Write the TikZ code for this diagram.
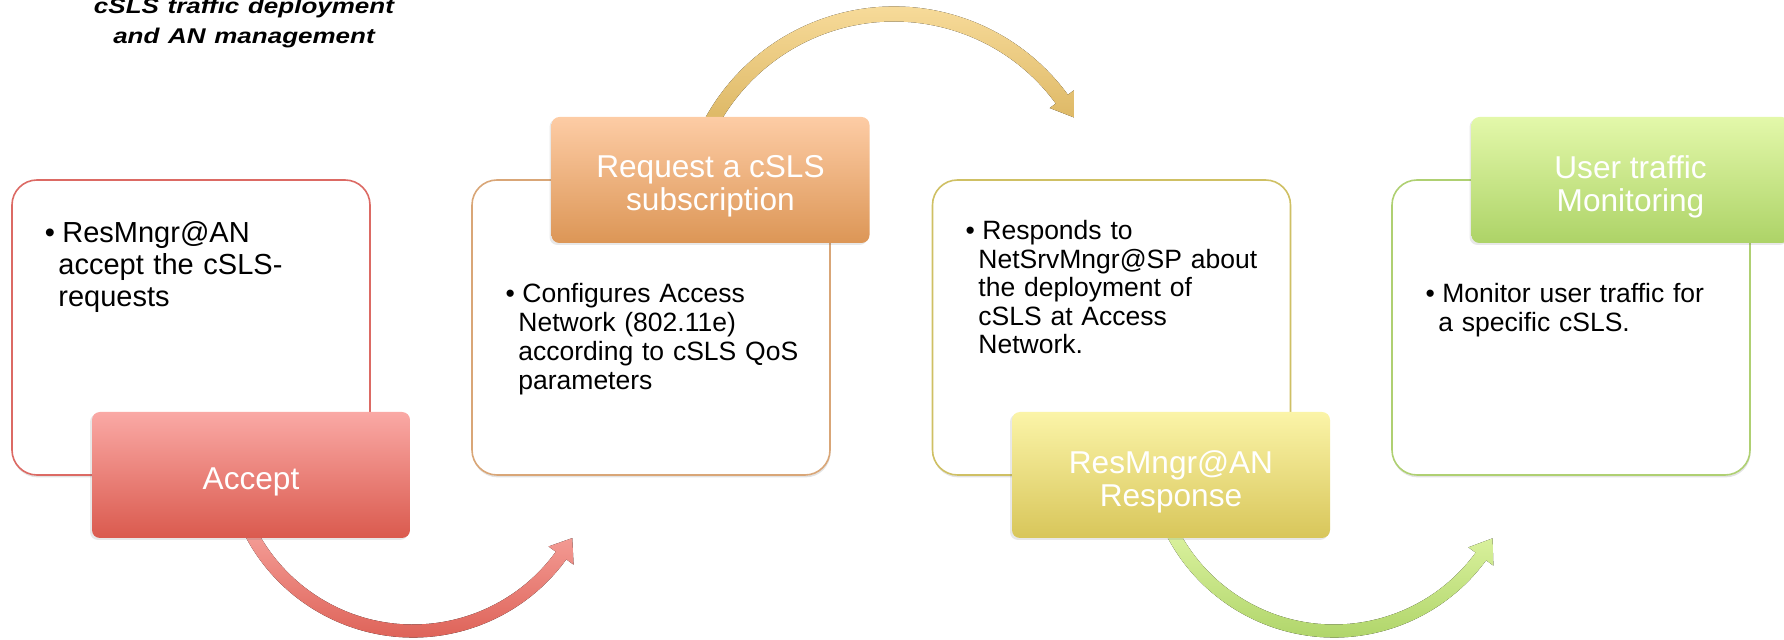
\documentclass[tikz,border=0pt]{standalone}
\usepackage{fontspec}
\usepackage{graphicx}
\setmainfont{Liberation Sans}
\usetikzlibrary{shadows}

% outline colours of the white panels
\definecolor{lineRed}{HTML}{DC6A64}
\definecolor{lineOrange}{HTML}{D9A677}
\definecolor{lineYellow}{HTML}{CFC064}
\definecolor{lineGreen}{HTML}{AFD072}
% header gradients (top / bottom)
\definecolor{redTop}{HTML}{FAA9A5}
\definecolor{redBot}{HTML}{DA5A4E}
\definecolor{orgTop}{HTML}{FDCCA5}
\definecolor{orgBot}{HTML}{DC9656}
\definecolor{yelTop}{HTML}{FBF4A8}
\definecolor{yelBot}{HTML}{D8C65A}
\definecolor{grnTop}{HTML}{E3F8AA}
\definecolor{grnBot}{HTML}{ADD367}
% curved arrow gradients
\definecolor{arRedTop}{HTML}{F9AAA4}
\definecolor{arRedBot}{HTML}{D9564B}
\definecolor{arGoldTop}{HTML}{FDE3A6}
\definecolor{arGoldBot}{HTML}{D6AE56}
\definecolor{arGrnTop}{HTML}{E4F8AA}
\definecolor{arGrnBot}{HTML}{A7CF5F}

\newcommand{\bulletmark}{\makebox[0pt][r]{\textbullet\hspace{1.7pt}}\hspace{2pt}}

\begin{document}
\begin{tikzpicture}[x=0.5pt,y=-0.5pt,
  panel/.style={draw=#1, line width=0.8pt, fill=white, rounded corners=12.5pt,
    minimum width=179pt, minimum height=147.5pt, inner sep=0pt,
    drop shadow={shadow xshift=0.3pt, shadow yshift=-1.2pt, opacity=0.22, fill=black!50}},
  header/.style 2 args={top color=#1, bottom color=#2, draw=none, rounded corners=4pt,
    minimum width=159pt, minimum height=63pt, inner sep=0pt,
    drop shadow={shadow xshift=-1pt, shadow yshift=-1pt, opacity=0.15, fill=black!60}},
  headtext/.style={inner sep=0pt, text=white, align=center,
    font=\fontsize{15.8}{16.5}\selectfont},
  bodytext/.style={anchor=base west, inner sep=0pt, text width=150pt, align=left,
    font=\fontsize{13.25}{14.4}\selectfont}]
\useasboundingbox (0,0) rectangle (1784,640);

% title
\node[anchor=base, inner sep=0pt, text width=220pt, align=center,
      font=\fontsize{13}{15}\selectfont\bfseries\itshape] (title) at (244,14)
  {\scalebox{1}[0.82]{cSLS traffic deployment}\\\scalebox{1}[0.82]{and AN management}};

% white panels
\node[panel=lineRed]    (b1) at (191,327.5) {};
\node[panel=lineOrange] (b2) at (651,327.5) {};
\node[panel=lineYellow] (b3) at (1111.5,327.5) {};
\node[panel=lineGreen]  (b4) at (1571,327.5) {};

% centres of the curved arrows
\coordinate (cRed)  at (413,448);
\coordinate (cGold) at (894,222);
\coordinate (cGrn)  at (1334,449);

% curved arrow: Accept -> second panel
\begin{scope}[shift={(cRed)}]
  \fill[top color=arRedTop, bottom color=arRedBot]
    (160:189.5) arc[start angle=160, end angle=36, radius=189.5]
    -- (36:198.5) -- (29.5:183) -- (36:167.5) -- (36:176.5)
    arc[start angle=36, end angle=160, radius=176.5] -- cycle;
\end{scope}

% curved arrow: request header -> third panel
\begin{scope}[shift={(cGold)}]
  \fill[top color=arGoldTop, bottom color=arGoldBot]
    (200:215.5) arc[start angle=200, end angle=323.8, radius=215.5]
    -- (323.8:223) -- (329.8:208) -- (323.8:193) -- (323.8:200.5)
    arc[start angle=323.8, end angle=200, radius=200.5] -- cycle;
\end{scope}

% curved arrow: response header -> fourth panel
\begin{scope}[shift={(cGrn)}]
  \fill[top color=arGrnTop, bottom color=arGrnBot]
    (160:188.5) arc[start angle=160, end angle=36.2, radius=188.5]
    -- (36.2:197.5) -- (29.4:182) -- (36.2:166.5) -- (36.2:175.5)
    arc[start angle=36.2, end angle=160, radius=175.5] -- cycle;
\end{scope}

% coloured headers
\node[header={redTop}{redBot}] (h1) at (251,475) {};
\node[header={orgTop}{orgBot}] (h2) at (710.5,180) {};
\node[header={yelTop}{yelBot}] (h3) at (1171,475) {};
\node[header={grnTop}{grnBot}] (h4) at (1630.5,180) {};
\node[headtext] (h1t) at ([yshift=-3.3pt]h1.center) {Accept};
\node[headtext] (h2t) at ([yshift=-3.3pt]h2.center) {Request a cSLS\\subscription};
\node[headtext] (h3t) at ([yshift=-3.3pt]h3.center) {ResMngr@AN\\Response};
\node[headtext] (h4t) at ([yshift=-3.3pt]h4.center) {User traffic\\Monitoring};

% bullet texts
\node[bodytext, font=\fontsize{14.5}{16}\selectfont] (t1) at (58,243)
  {\bulletmark ResMngr@AN\\accept the cSLS-\\requests};
\node[bodytext] (t2) at (518,303)
  {\bulletmark Configures Access\\Network (802.11e)\\according to cSLS QoS\\parameters};
\node[bodytext, font=\fontsize{13.25}{14.25}\selectfont] (t3) at (978,240)
  {\bulletmark Responds to\\NetSrvMngr@SP about\\the deployment of\\cSLS at Access\\Network.};
\node[bodytext] (t4) at (1438,303)
  {\bulletmark Monitor user traffic for\\a specific cSLS.};
\end{tikzpicture}
\end{document}
